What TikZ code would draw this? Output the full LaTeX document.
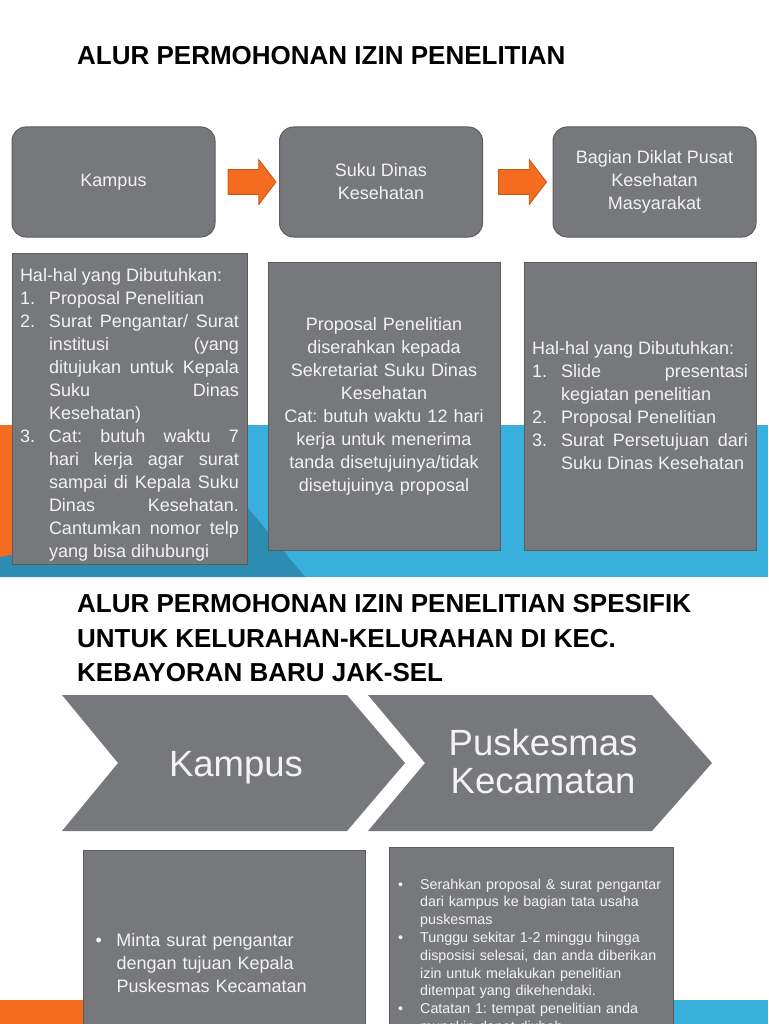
\documentclass[tikz,border=0pt]{standalone}
\usepackage{fontspec}
\setmainfont{Liberation Sans}
\usetikzlibrary{positioning,calc,shapes.arrows}
\setlength{\parindent}{0pt}
\hyphenpenalty=10000
\exhyphenpenalty=10000
\frenchspacing

\definecolor{boxgray}{HTML}{77787C}
\definecolor{boxedge}{HTML}{5C5D60}
\definecolor{flowor}{HTML}{F36C1F}
\definecolor{floworedge}{HTML}{C4561A}
\definecolor{bandblue}{HTML}{39AFDD}
\definecolor{banddark}{HTML}{2D8CB2}
\definecolor{txtwhite}{HTML}{F3F3F3}

% numbered and bulleted lines with hanging indent
\newcommand{\numitem}[2]{\par\hangindent=29pt\hangafter=1\noindent\makebox[29pt][l]{#1}#2}
\newcommand{\dotitem}[2]{\par\hangindent=#1\hangafter=1\noindent\makebox[#1][l]{\textbullet}#2}

\begin{document}
\begin{tikzpicture}[x=1pt, y=-1pt,
  every node/.style={text=txtwhite},
  judul/.style={text=black, inner sep=0pt, align=left,
    font=\fontsize{26}{34.5}\selectfont\bfseries},
  tahap/.style={draw=boxedge, fill=boxgray, line width=1pt, rounded corners=14pt,
    minimum width=203, minimum height=110, align=center,
    font=\fontsize{18}{23}\selectfont},
  syarat/.style={draw=boxedge, fill=boxgray, line width=1pt, inner xsep=8pt,
    font=\fontsize{18}{23}\selectfont},
  rincian/.style={draw=boxedge, fill=boxgray, line width=1pt},
  panah/.style={single arrow, fill=flowor, draw=floworedge, line width=0.8pt,
    inner xsep=0pt, inner ysep=12pt, minimum height=48, single arrow head extend=10pt,
    single arrow tip angle=105},
  chevron/.style={fill=boxgray}]

  \useasboundingbox (0,0) rectangle (768,1024);
  \clip (0,0) rectangle (768,1024);

  % Background bands
  \fill[bandblue] (0,425) rectangle (768,577);
  \fill[banddark] (0,577) -- (305,577) -- (225,480) -- (0,480) -- cycle;
  \fill[flowor] (0,425) -- (60,425) -- (60,545) -- (0,557) -- cycle;
  \fill[flowor] (0,1000) rectangle (90,1024);
  \fill[bandblue] (660,1000) rectangle (768,1024);

  % Title of the first flow
  \node[judul, anchor=base west] (judul1) at (77,65) {ALUR PERMOHONAN IZIN PENELITIAN};

  % Steps of the first flow
  \node[tahap] (kampus) at (113.5,182) {Kampus};
  \node[tahap] (sudin) at (381,182) {Suku Dinas\\Kesehatan};
  \node[tahap] (diklat) at (654.5,182) {Bagian Diklat Pusat\\Kesehatan\\Masyarakat};

  \node[panah] (ar1) at ($(kampus.east)!0.5!(sudin.west)$) {};
  \node[panah] (ar2) at ($(sudin.east)!0.5!(diklat.west)$) {};

  % Requirements under each step
  \node[syarat, text width=219, minimum height=308, align=justify] (syaratA) at (129.5,409) {%
    \rule{0pt}{24pt}Hal-hal yang Dibutuhkan:
    \numitem{1.}{Proposal Penelitian}
    \numitem{2.}{Surat Pengantar/ Surat\linebreak institusi (yang\linebreak ditujukan untuk Kepala\linebreak Suku Dinas\linebreak Kesehatan)}
    \numitem{3.}{Cat: butuh waktu 7\linebreak hari kerja agar surat\linebreak sampai di Kepala Suku\linebreak Dinas Kesehatan.\linebreak Cantumkan nomor telp\linebreak yang bisa dihubungi}\par};
  \node[syarat, text width=216, minimum height=288, align=center] (syaratB) at (384,406) {%
    Proposal Penelitian\\diserahkan kepada\\Sekretariat Suku Dinas\\Kesehatan\\Cat: butuh waktu 12 hari\\kerja untuk menerima\\tanda disetujuinya/tidak\\disetujuinya proposal};
  \node[syarat, text width=216, minimum height=288, align=justify] (syaratC) at (640,406) {%
    Hal-hal yang Dibutuhkan:
    \numitem{1.}{Slide presentasi\linebreak kegiatan penelitian}
    \numitem{2.}{Proposal Penelitian}
    \numitem{3.}{Surat Persetujuan dari\linebreak Suku Dinas Kesehatan}\par};

  % Title of the second flow
  \node[judul, anchor=north west] (judul2) at (77,594.5) {ALUR PERMOHONAN IZIN PENELITIAN SPESIFIK\\UNTUK KELURAHAN-KELURAHAN DI KEC.\\KEBAYORAN BARU JAK-SEL};

  % Chevrons
  \fill[chevron] (62,695) -- (347,695) -- (405,763) -- (347,831) -- (62,831) -- (118,763) -- cycle;
  \fill[chevron] (368,695) -- (652,695) -- (712,763) -- (652,831) -- (368,831) -- (425,763) -- cycle;
  \node[font=\fontsize{36.5}{38}\selectfont, anchor=base] (kampus2) at (236,776) {Kampus};
  \node[font=\fontsize{36.5}{38}\selectfont, align=center] (pkm) at (543,761) {Puskesmas\\Kecamatan};

  % Detail boxes
  \node[rincian, anchor=north west, minimum width=282, minimum height=216, text width=258,
    inner xsep=12pt, align=left, font=\fontsize{18}{23}\selectfont] (minta) at (83,850) {%
    \dotitem{21pt}{Minta surat pengantar\newline dengan tujuan Kepala\newline Puskesmas Kecamatan}\par};
  \node[rincian, anchor=north west, minimum width=284, minimum height=220] (serah) at (389,847) {};
  \node[anchor=north west, text width=268, inner sep=0pt, align=left,
    font=\fontsize{14.3}{17.8}\selectfont] (serahteks) at (398,871) {%
    \dotitem{22pt}{Serahkan proposal \& surat pengantar\newline dari kampus ke bagian tata usaha\newline puskesmas}
    \dotitem{22pt}{Tunggu sekitar 1-2 minggu hingga\newline disposisi selesai, dan anda diberikan\newline izin untuk melakukan penelitian\newline ditempat yang dikehendaki.}
    \dotitem{22pt}{Catatan 1: tempat penelitian anda\newline mungkin dapat diubah}\par};

\end{tikzpicture}
\end{document}
